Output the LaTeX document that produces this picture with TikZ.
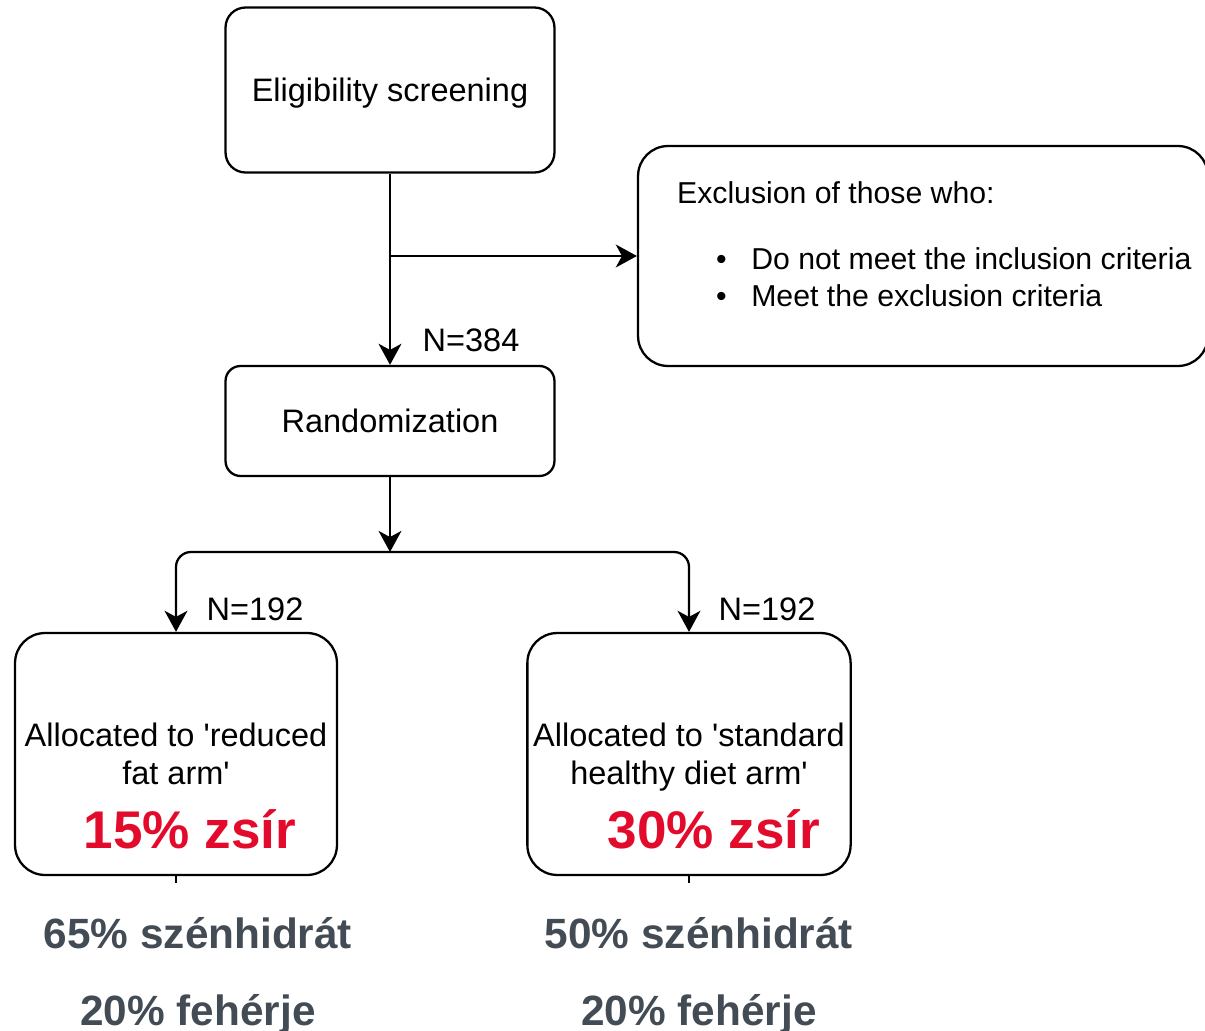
\documentclass[tikz,border=0pt]{standalone}
\usepackage{fontspec}
\setmainfont{Liberation Sans}
\usepackage{tikz}
\usetikzlibrary{arrows.meta}
\usepackage{color}
\definecolor{Fat-red}{RGB}{227,11,43}
\definecolor{Macro-gray}{RGB}{67,75,84}

\begin{document}
\begin{tikzpicture}[x=0.02cm, y=-0.02cm, line width=1.3pt,
    >={Stealth[length=12pt, width=13pt, inset=3.5pt]},
    box/.style={draw=black, line width=1.3pt, align=center, text depth=0pt, font=\fontsize{18.5}{21.6}\selectfont},
    plain/.style={inner sep=0pt, font=\fontsize{18.5}{21.6}\selectfont},
    small/.style={inner sep=0pt, anchor=base west, font=\fontsize{17.2}{20}\selectfont},
    fat/.style={inner sep=0pt, anchor=base, text=Fat-red, font=\fontsize{30.2}{36}\selectfont\bfseries},
    macro/.style={inner sep=0pt, anchor=base, text=Macro-gray, font=\fontsize{24.1}{29}\selectfont\bfseries}]
  \clip (0,0) rectangle (1205,1031);

  \node[box, rounded corners=0.4cm, minimum width=6.58cm, minimum height=3.3cm ] (elig)   at ( 390,  90) {Eligibility screening};
  \node[box, rounded corners=0.6cm, minimum width=11.4cm, minimum height=4.4cm ] (excl)   at ( 923, 256) {};
  \node[box, rounded corners=0.3cm, minimum width=6.58cm, minimum height=2.2cm ] (rand)   at ( 390, 421) {Randomization};
  \node[box, rounded corners=0.6cm, minimum width=6.44cm, minimum height=4.84cm] (redarm) at ( 176, 754) {Allocated to \textquotesingle reduced\\fat arm\textquotesingle};
  \node[box, rounded corners=0.6cm, minimum width=6.44cm, minimum height=4.84cm] (stdarm) at ( 689, 754) {Allocated to \textquotesingle standard\\healthy diet arm\textquotesingle};

  \node[small] (excltitle) at (676, 203) {Exclusion of those who:};
  \node[small] (exclin)    at (715, 269) {\textbullet\hspace{14pt}Do not meet the inclusion criteria};
  \node[small] (exclex)    at (715, 306) {\textbullet\hspace{14pt}Meet the exclusion criteria};

  \coordinate (split)  at (390, 256);
  \coordinate (fork)   at (390, 552);
  \coordinate (redend) at (176, 883);
  \coordinate (stdend) at (689, 883);

  \draw[->] (elig) -- (rand);
  \draw[->] (split) -- (excl);
  \draw[->] (rand) -- (fork);
  \draw[->, rounded corners=0.3cm] (fork) -| (redarm);
  \draw[->, rounded corners=0.3cm] (fork) -| (stdarm);
  \draw (redarm) -- (redend);
  \draw (stdarm) -- (stdend);

  \node[plain] (n384)  at (471, 340) {N=384};
  \node[plain] (n192a) at (255, 609) {N=192};
  \node[plain] (n192b) at (767, 609) {N=192};

  \node[fat] (redfat) at (190, 848) {15\% zsír};
  \node[fat] (stdfat) at (714, 848) {30\% zsír};

  \node[macro] (redcarb) at (198, 948)  {65\% szénhidrát};
  \node[macro] (redprot) at (198, 1025) {20\% fehérje};
  \node[macro] (stdcarb) at (699, 948)  {50\% szénhidrát};
  \node[macro] (stdprot) at (699, 1025) {20\% fehérje};
\end{tikzpicture}
\end{document}
